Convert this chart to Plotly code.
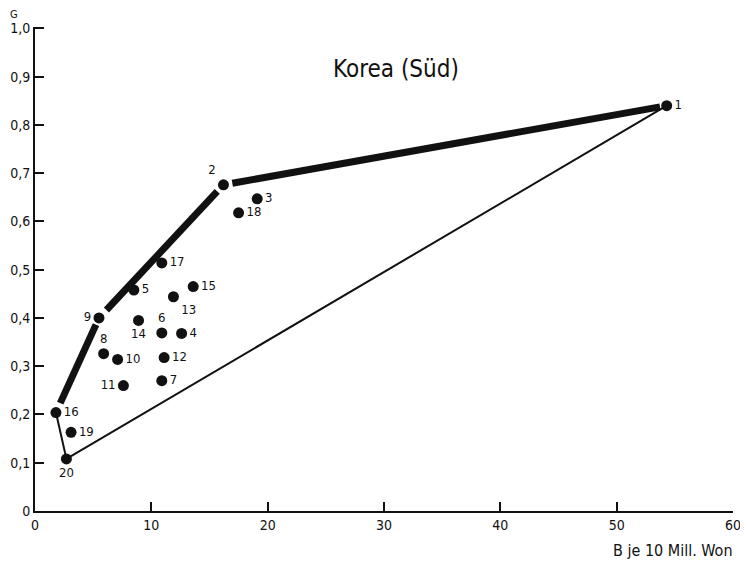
import plotly.graph_objects as go

# Data
labels = ["1", "2", "3", "4", "5", "6", "7", "8", "9", "10",
          "11", "12", "13", "14", "15", "16", "17", "18", "19", "20"]
b_values = [54.3, 16.2, 19.1, 12.6, 8.5, 10.9, 10.9, 5.9, 5.5, 7.1,
            7.6, 11.1, 11.9, 8.9, 13.6, 1.8, 10.9, 17.5, 3.1, 2.7]
g_values = [0.84, 0.676, 0.647, 0.368, 0.458, 0.369, 0.27, 0.326, 0.40, 0.314,
            0.26, 0.318, 0.444, 0.395, 0.465, 0.204, 0.514, 0.618, 0.163, 0.108]

# Efficient frontier (thick) and remaining hull edges (thin)
frontier = ["16", "9", "2", "1"]
thin_edges = [("1", "20"), ("20", "16")]

x_ticks = [0, 10, 20, 30, 40, 50, 60]
y_ticks = [0, 0.1, 0.2, 0.3, 0.4, 0.5, 0.6, 0.7, 0.8, 0.9, 1.0]
y_ticktext = ["0", "0,1", "0,2", "0,3", "0,4", "0,5", "0,6", "0,7", "0,8", "0,9", "1,0"]

# label placement (style)
label_pos = {
    "1": "middle right", "2": "top left", "3": "middle right", "18": "middle right",
    "17": "middle right", "15": "middle right", "5": "middle right", "13": "bottom right",
    "9": "middle left", "14": "bottom center", "6": "top center", "4": "middle right",
    "8": "top center", "10": "middle right", "12": "middle right", "11": "middle left",
    "7": "middle right", "16": "middle right", "19": "middle right", "20": "bottom center",
}
# fractions of each thick frontier segment that are drawn (gaps near points)
seg_fracs = [(0.10, 0.93), (0.06, 0.95), (0.02, 0.985)]

pts = {l: (x, y) for l, x, y in zip(labels, b_values, g_values)}
FONT = "DejaVu Sans Condensed, DejaVu Sans, sans-serif"
INK = "#111111"

fig = go.Figure()

for (a, b), (f0, f1) in zip(zip(frontier[:-1], frontier[1:]), seg_fracs):
    (x0, y0), (x1, y1) = pts[a], pts[b]
    fig.add_trace(go.Scatter(
        x=[x0 + f0 * (x1 - x0), x0 + f1 * (x1 - x0)],
        y=[y0 + f0 * (y1 - y0), y0 + f1 * (y1 - y0)],
        mode="lines", line=dict(color=INK, width=7), showlegend=False, hoverinfo="skip"))

for a, b in thin_edges:
    fig.add_trace(go.Scatter(
        x=[pts[a][0], pts[b][0]], y=[pts[a][1], pts[b][1]],
        mode="lines", line=dict(color=INK, width=2), showlegend=False, hoverinfo="skip"))

fig.add_trace(go.Scatter(
    x=b_values, y=g_values, mode="markers+text", text=labels,
    textposition=[label_pos[l] for l in labels],
    textfont=dict(family=FONT, size=13, color=INK),
    marker=dict(size=11, color=INK), showlegend=False, cliponaxis=False))

fig.add_annotation(x=31, y=0.915, xref="x", yref="y", text="Korea (Süd)",
                   showarrow=False, font=dict(family=FONT, size=24, color=INK))
fig.add_annotation(x=0, y=1.0, xref="paper", yref="paper", text="G",
                   showarrow=False, xanchor="center", yanchor="middle", yshift=12.5, xshift=-21,
                   font=dict(family=FONT, size=11, color=INK))
fig.add_annotation(x=1.0, y=0, xref="paper", yref="paper", text="B je 10 Mill. Won",
                   showarrow=False, xanchor="right", yanchor="top", yshift=-28, xshift=2,
                   font=dict(family=FONT, size=16, color=INK))

fig.update_xaxes(range=[0, 60], tickvals=x_ticks, showline=True, linecolor=INK, linewidth=2,
                 ticks="inside", ticklen=9, tickwidth=2, tickcolor=INK, showgrid=False,
                 zeroline=False, automargin=False,
                 tickfont=dict(family=FONT, size=14, color=INK))
fig.update_yaxes(range=[0, 1.003], tickvals=y_ticks, ticktext=y_ticktext, showline=True,
                 linecolor=INK, linewidth=2, ticks="inside", ticklen=9, tickwidth=2,
                 tickcolor=INK, showgrid=False, zeroline=False, automargin=False,
                 tickfont=dict(family=FONT, size=14, color=INK))
# page body has an 8px margin, so the figure is sized/offset to compensate
fig.update_layout(width=740, height=555, margin=dict(l=27, r=15, t=19, b=52),
                  plot_bgcolor="white", paper_bgcolor="white")

fig.write_html("out.html")
